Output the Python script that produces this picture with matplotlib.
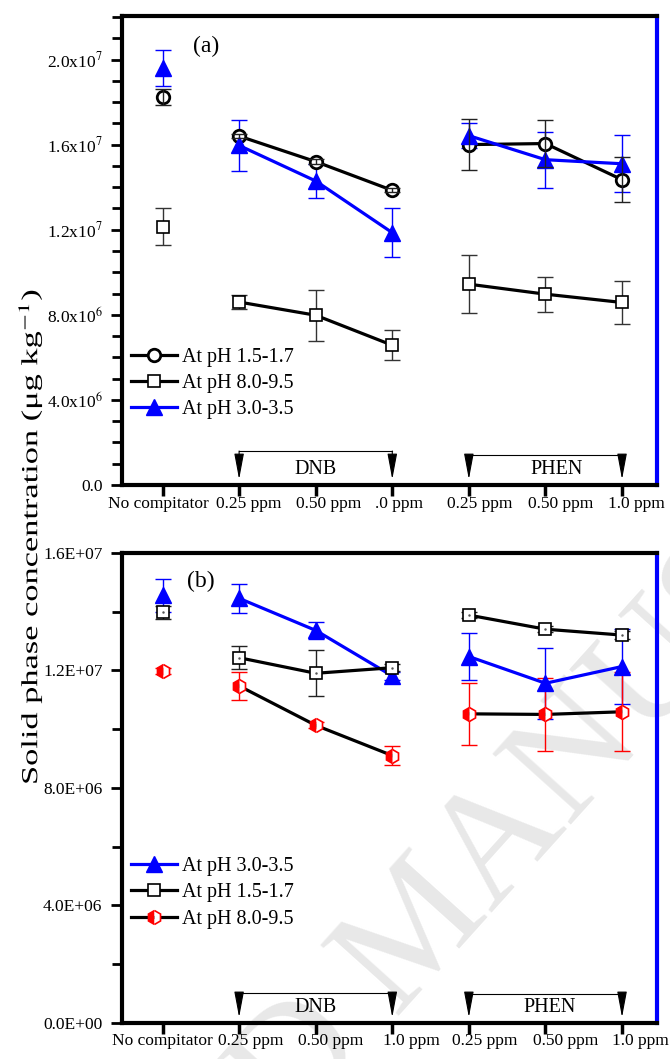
import numpy as np
import matplotlib.pyplot as plt
import matplotlib.transforms as mtransforms
from matplotlib.ticker import MultipleLocator
from matplotlib.patheffects import AbstractPathEffect

plt.rcParams['font.family'] = ['Liberation Serif', 'DejaVu Serif']
plt.rcParams['mathtext.fontset'] = 'stix'

# categories
cats_a = ['No compitator', '0.25 ppm', '0.50 ppm', '.0 ppm', '0.25 ppm', '0.50 ppm', '1.0 ppm']
cats_b = ['No compitator', '0.25 ppm', '0.50 ppm', '1.0 ppm', '0.25 ppm', '0.50 ppm', '1.0 ppm']

# panel (a), values in 1e6 ug/kg
a_ph15 = [18.25, 16.4, 15.2, 13.85, 16.0, 16.05, 14.35]
a_ph15_err = [0.38, 0.1, 0.1, 0.1, 1.2, 1.1, 1.05]
a_ph80 = [12.15, 8.6, 7.98, 6.57, 9.44, 8.97, 8.58]
a_ph80_err = [0.85, 0.35, 1.2, 0.7, 1.37, 0.83, 1.02]
a_ph30 = [19.6, 15.96, 14.29, 11.86, 16.42, 15.29, 15.1]
a_ph30_err = [0.85, 1.2, 0.8, 1.14, 0.6, 1.32, 1.33]

# panel (b)
b_ph30 = [14.55, 14.45, 13.36, 11.81, 12.47, 11.56, 12.13]
b_ph30_err = [0.55, 0.5, 0.28, 0.15, 0.8, 1.2, 1.29]
b_ph15 = [13.97, 12.43, 11.9, 12.09, 13.88, 13.4, 13.2]
b_ph15_err = [0.23, 0.39, 0.78, 0.12, 0.1, 0.1, 0.15]
b_ph80 = [11.98, 11.47, 10.13, 9.1, 10.52, 10.5, 10.59]
b_ph80_err = [0.1, 0.49, 0.1, 0.31, 1.06, 1.23, 1.34]

yticks_a = [0, 4e6, 8e6, 12e6, 16e6, 20e6]
ylabels_a = ['0.0', '4.0x10$^{6}$', '8.0x10$^{6}$', '1.2x10$^{7}$', '1.6x10$^{7}$', '2.0x10$^{7}$']
yticks_b = [0, 4e6, 8e6, 12e6, 16e6]
ylabels_b = ['0.0E+00', '4.0E+06', '8.0E+06', '1.2E+07', '1.6E+07']

# horizontal nudges (px) of the category labels, as in the original layout
lab_shift_a = [-4, 10, 13, 7, 11, 15, 14]
lab_shift_b = [0, 12, 15, 19, 16, 20, 18]

BLUE = '#0000ff'
RED = '#ff0000'
segments = [(0, 1), (1, 4), (4, 7)]


class Stretch(AbstractPathEffect):
    """Stretch text glyphs along the baseline (condensed-looking axis title)."""
    def __init__(self, sx):
        super().__init__()
        self.sx = sx

    def draw_path(self, renderer, gc, tpath, affine, rgbFace=None):
        renderer.draw_path(gc, tpath, mtransforms.Affine2D().scale(self.sx, 1.0) + affine, rgbFace)


def series(ax, vals, errs, label, color, ecolor, mstyle, ms, err_on_top=False, **mk):
    x = np.arange(len(vals))
    y = np.array(vals) * 1e6
    e = np.array(errs) * 1e6
    ax.errorbar(x, y, yerr=e, fmt='none', ecolor=ecolor, elinewidth=1, capsize=6,
                capthick=1, zorder=5 if err_on_top else 2)
    h = None
    for s0, s1 in segments:
        ln, = ax.plot(x[s0:s1], y[s0:s1], color=color, lw=2.3, marker=mstyle, ms=ms,
                      zorder=3, **mk)
        if h is None:
            h = ln
    h.set_label(label)
    return h


def bracket(ax, x0, x1, ytop, label, tx):
    trans = mtransforms.blended_transform_factory(ax.transData, ax.transAxes)
    ax.plot([x0, x1], [ytop, ytop], color='k', lw=0.8, transform=trans, clip_on=False, zorder=4)
    for xx in (x0, x1):
        ax.annotate('', xy=(xx, 0.012), xytext=(xx, ytop), xycoords=trans, textcoords=trans,
                    arrowprops=dict(arrowstyle='-|>,head_width=0.3,head_length=1.6',
                                    color='k', lw=0.8, shrinkA=0, shrinkB=0))
    ax.text(tx, 0.034, label, transform=trans, ha='center', va='center', fontsize=14.5)


def style_axes(ax, yticks, ylabels, minor, cats, shifts, ylim):
    ax.set_xlim(-0.53, 6.46)
    ax.set_ylim(*ylim)
    ax.set_yticks(yticks)
    ax.set_yticklabels(ylabels, fontsize=12.5)
    ax.yaxis.set_minor_locator(MultipleLocator(minor))
    ax.set_xticks(range(len(cats)))
    ax.set_xticklabels([])
    trans = mtransforms.blended_transform_factory(ax.transData, ax.transAxes)
    for i, (c, dx) in enumerate(zip(cats, shifts)):
        t = trans + mtransforms.ScaledTranslation(dx / 100, -18.5 / 100, fig.dpi_scale_trans)
        ax.text(i, 0, c, transform=t, ha='center', va='center', fontsize=12.5, clip_on=False)
    ax.tick_params(axis='y', which='major', direction='out', length=8, width=2, pad=6)
    ax.tick_params(axis='y', which='minor', direction='out', length=7, width=2)
    ax.tick_params(axis='x', which='major', direction='out', length=8, width=2.5)
    for s in ['left', 'bottom', 'top']:
        ax.spines[s].set_linewidth(3)
    ax.spines['right'].set_linewidth(3)
    ax.spines['right'].set_color(BLUE)
    ax.set_facecolor('none')


fig = plt.figure(figsize=(6.7, 10.59), dpi=100)
ax1 = fig.add_axes([0.182, 0.542, 0.799, 0.443])
ax2 = fig.add_axes([0.182, 0.034, 0.799, 0.444])

# watermark
fig.text(0.631, 0.12, 'ACCEPTED MANUSCRIPT', rotation=48, fontsize=115, color='#e8e8e8',
         ha='center', va='center', rotation_mode='anchor', zorder=-1)

leg_kw = dict(loc='upper left', frameon=False, fontsize=14.5, handlelength=2.3,
              handletextpad=0.25, labelspacing=0.36, borderaxespad=0, borderpad=0)

# panel (a)
h1 = series(ax1, a_ph15, a_ph15_err, 'At pH 1.5-1.7', 'k', '#222222', 'o', 9, err_on_top=True,
            mfc='white', mec='k', mew=2)
h2 = series(ax1, a_ph80, a_ph80_err, 'At pH 8.0-9.5', 'k', '#333333', 's', 9,
            mfc='white', mec='k', mew=1.2)
h3 = series(ax1, a_ph30, a_ph30_err, 'At pH 3.0-3.5', BLUE, BLUE, '^', 11,
            mfc=BLUE, mec=BLUE, mew=1)
style_axes(ax1, yticks_a, ylabels_a, 1e6, cats_a, lab_shift_a, (0, 22.05e6))
ax1.legend(handles=[h1, h2, h3], bbox_to_anchor=(0.017, 0.293), **leg_kw)
ax1.text(0.158, 0.935, '(a)', transform=ax1.transAxes, ha='center', va='center', fontsize=17)
bracket(ax1, 1, 3, 0.0725, 'DNB', 2.0)
bracket(ax1, 4, 6, 0.064, 'PHEN', 5.15)

# panel (b)
g1 = series(ax2, b_ph30, b_ph30_err, 'At pH 3.0-3.5', BLUE, BLUE, '^', 11,
            mfc=BLUE, mec=BLUE, mew=1)
g2 = series(ax2, b_ph15, b_ph15_err, 'At pH 1.5-1.7', 'k', '#222222', 's', 9,
            mfc='white', mec='k', mew=1.2)
ax2.plot(np.arange(len(b_ph15)), np.array(b_ph15) * 1e6, ls='none', marker='.', ms=1.5,
         color='#555555', zorder=3.5)
g3 = series(ax2, b_ph80, b_ph80_err, 'At pH 8.0-9.5', 'k', RED, 'h', 10,
            mfc=RED, mec=RED, mew=1.2, fillstyle='left', markerfacecoloralt='white')
style_axes(ax2, yticks_b, ylabels_b, 2e6, cats_b, lab_shift_b, (0, 16e6))
ax2.legend(handles=[g1, g2, g3], bbox_to_anchor=(0.017, 0.353), **leg_kw)
ax2.text(0.148, 0.94, '(b)', transform=ax2.transAxes, ha='center', va='center', fontsize=17)
bracket(ax2, 1, 3, 0.064, 'DNB', 2.0)
bracket(ax2, 4, 6, 0.062, 'PHEN', 5.05)

ylab = fig.text(0.045, 1 - 785 / 1059, 'Solid phase concentration (\u03bcg kg$^{-1}$)', rotation=90,
                ha='left', va='center', rotation_mode='anchor', fontsize=16.5)
ylab.set_path_effects([Stretch(1.5)])

fig.savefig('out.png', dpi=100)
